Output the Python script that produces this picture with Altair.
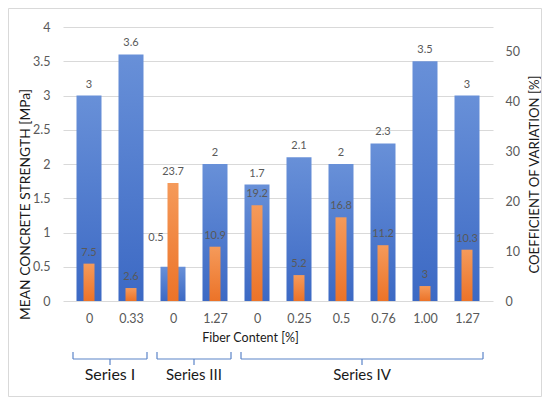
import json
import altair as alt
import pandas as pd

# ---- data ----
series = ["Series I", "Series I", "Series III", "Series III",
          "Series IV", "Series IV", "Series IV", "Series IV", "Series IV", "Series IV"]
fiber = ["0", "0.33", "0", "1.27", "0", "0.25", "0.5", "0.76", "1.00", "1.27"]
strength = [3, 3.6, 0.5, 2, 1.7, 2.1, 2, 2.3, 3.5, 3]
cov = [7.5, 2.6, 23.7, 10.9, 19.2, 5.2, 16.8, 11.2, 3, 10.3]

df = pd.DataFrame({
    "idx": list(range(len(fiber))),
    "series": series,
    "fiber": fiber,
    "strength": strength,
    "cov": cov,
})

FONT = "Lato"
GRAY = "#595959"
DARK = "#1a1a1a"

blue_grad = alt.Gradient(
    gradient="linear",
    stops=[alt.GradientStop(color="#6890D8", offset=0),
           alt.GradientStop(color="#3C69C4", offset=1)],
    x1=0, x2=0, y1=0, y2=1)
orange_grad = alt.Gradient(
    gradient="linear",
    stops=[alt.GradientStop(color="#F59A5A", offset=0),
           alt.GradientStop(color="#EC7328", offset=1)],
    x1=0, x2=0, y1=0, y2=1)

xscale = alt.Scale(domain=[-0.5, len(fiber) - 0.5], nice=False, zero=False)
xaxis = alt.Axis(
    values=list(range(len(fiber))),
    labelExpr=json.dumps(fiber) + "[datum.value]",
    grid=False, ticks=False, domain=False,
    labelPadding=11, labelFontSize=12.5, labelColor=GRAY, labelFont=FONT,
    title="Fiber Content [%]", titleFont=FONT, titleFontSize=12.5,
    titleFontWeight="normal", titleColor=DARK,
    titleX=187, titleY=36, titleBaseline="middle", titleAlign="center")


def X(field):
    return alt.X(f"{field}:Q", scale=xscale, axis=xaxis)


yleft = alt.Y(
    "strength:Q",
    scale=alt.Scale(domain=[0, 4], nice=False),
    axis=alt.Axis(
        values=[0, 0.5, 1, 1.5, 2, 2.5, 3, 3.5, 4], format="~g",
        grid=True, gridColor="#d9d9d9", ticks=False, domain=False,
        labelPadding=13, labelFontSize=12.5, labelColor=GRAY, labelFont=FONT,
        title="MEAN CONCRETE STRENGTH [MPa]", titleFont=FONT, titleFontSize=13.8,
        titleFontWeight="normal", titleColor=DARK,
        titleAngle=270, titleX=-37.5, titleY=177,
        titleBaseline="middle", titleAlign="center"))

yright = alt.Y(
    "cov:Q",
    scale=alt.Scale(domain=[0, 55], nice=False),
    axis=alt.Axis(
        orient="right", values=[0, 10, 20, 30, 40, 50],
        grid=False, ticks=False, domain=False,
        labelPadding=12, labelFontSize=12.5, labelColor=GRAY, labelFont=FONT,
        title="COEFFICIENT  OF VARIATION [%]", titleFont=FONT, titleFontSize=13.2,
        titleFontWeight="normal", titleColor=DARK,
        titleAngle=270, titleX=41, titleY=147,
        titleBaseline="middle", titleAlign="center"))

base = alt.Chart(df)

blue_bars = base.mark_bar(size=25, color=blue_grad).encode(x=X("idx"), y=yleft)
blue_text = base.transform_filter(
    "datum.cov / 55 * 4 <= datum.strength"
).mark_text(dy=-8, baseline="alphabetic", fontSize=11, color=GRAY, font=FONT).encode(
    x=X("idx"), y=yleft, text=alt.Text("strength:Q", format="~g"))
blue_text_moved = base.transform_filter(
    "datum.cov / 55 * 4 > datum.strength"
).mark_text(dx=-17, dy=-26, baseline="alphabetic", fontSize=11, color=GRAY, font=FONT).encode(
    x=X("idx"), y=yleft, text=alt.Text("strength:Q", format="~g"))

orange_bars = base.mark_bar(size=11, color=orange_grad).encode(x=X("idx"), y=yright)
orange_text = base.mark_text(dy=-8, baseline="alphabetic", fontSize=11, color=GRAY, font=FONT).encode(
    x=X("idx"), y=yright, text=alt.Text("cov:Q", format="~g"))

left = alt.layer(blue_bars, blue_text, blue_text_moved)
right = alt.layer(orange_bars, orange_text)

# ---- series brackets ----
br = base.transform_aggregate(
    lo="min(idx)", hi="max(idx)", groupby=["series"]
).transform_calculate(
    start="datum.lo - 0.5", end="datum.hi + 0.5", mid="(datum.lo + datum.hi) / 2")

BR_COLOR = "#5B84C8"
br_h = br.mark_rule(color=BR_COLOR, strokeWidth=1.2, xOffset=5, x2Offset=-5).encode(
    x=X("start"), x2="end:Q", y=alt.value(332))
br_l = br.mark_rule(color=BR_COLOR, strokeWidth=1.2, xOffset=5).encode(
    x=X("start"), y=alt.value(325), y2=alt.value(332))
br_r = br.mark_rule(color=BR_COLOR, strokeWidth=1.2, xOffset=-5).encode(
    x=X("end"), y=alt.value(325), y2=alt.value(332))
br_c = br.mark_rule(color=BR_COLOR, strokeWidth=1.2).encode(
    x=X("mid"), y=alt.value(332), y2=alt.value(338))
br_t = br.mark_text(color=DARK, font=FONT, baseline="middle").encode(
    x=X("mid"), y=alt.value(348), text="series:N",
    size=alt.condition("datum.series == 'Series I'", alt.value(16), alt.value(15)))

frame = alt.Chart(pd.DataFrame({"k": [0]})).mark_rect(
    fillOpacity=0, stroke="#d9d9d9", strokeWidth=1).encode(
    x=alt.value(-54.5), x2=alt.value(478.5), y=alt.value(-18.5), y2=alt.value(369.5))

chart = alt.layer(
    frame, left, right, br_h, br_l, br_r, br_c, br_t
).resolve_scale(
    y="independent"
).properties(
    width=430, height=274,
    padding={"left": 55, "top": 19, "right": 49, "bottom": 96},
    autosize="none",
    background="white",
).configure_view(stroke=None)

chart.save("out.html", embed_options={"renderer": "svg", "actions": False})
